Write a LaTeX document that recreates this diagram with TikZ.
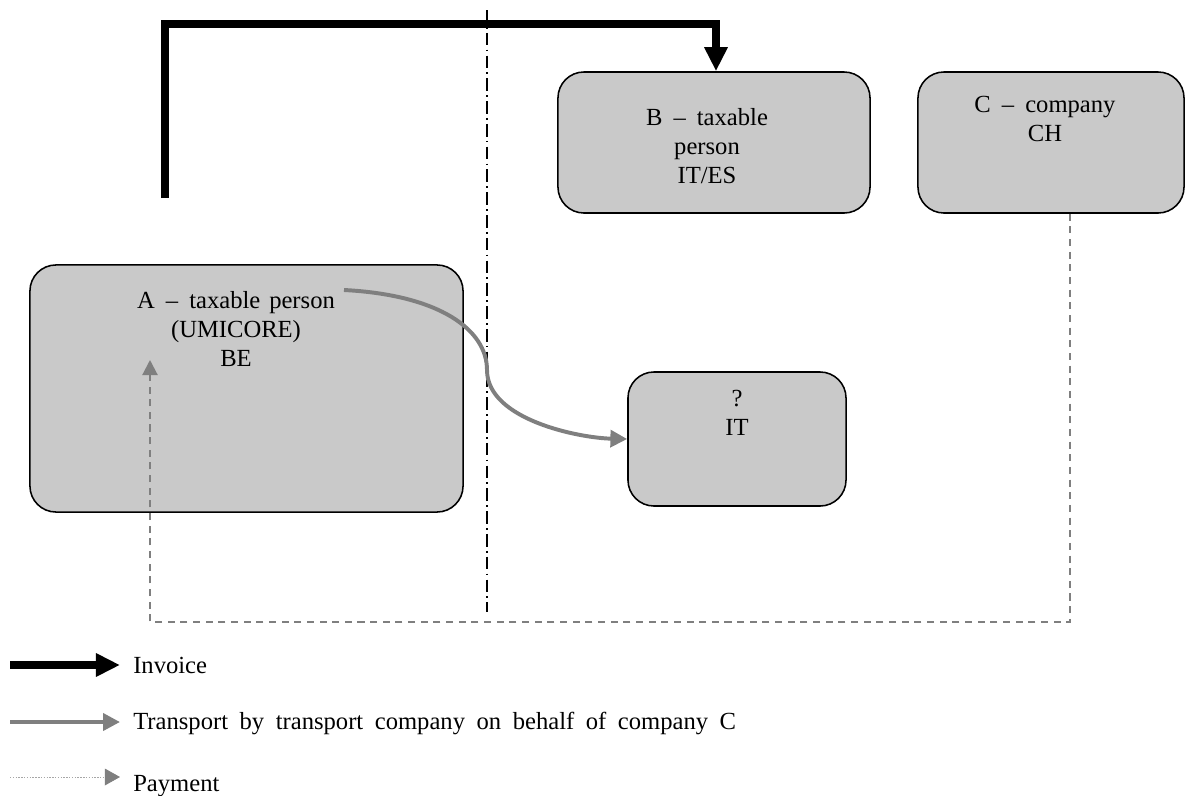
\documentclass[tikz,border=0pt]{standalone}
\usepackage{fontspec}
\setmainfont{Liberation Serif}
\usetikzlibrary{arrows.meta,calc}
\definecolor{boxgray}{HTML}{C9C9C9}
\definecolor{arrgray}{HTML}{7F7F7F}
\newcommand{\dsh}{\hspace{0.45em}--\hspace{0.45em}}
\newcommand{\lblfont}{\fontsize{17.5}{20.5}\selectfont\spaceskip 0.36em plus 0.1em\relax}
\newcommand{\wideword}{\spaceskip 0.47em plus 0.1em\relax}
\begin{document}
\begin{tikzpicture}[x=0.025cm,y=-0.025cm,
  box/.style={draw=black,line width=1.1pt,fill=boxgray,rounded corners=0.65cm,inner sep=0pt},
  lbl/.style={align=center,inner sep=0pt,font=\lblfont},
  inv/.style={line width=5.7pt,-{Triangle[width=0.55cm,length=0.6cm]}},
  trn/.style={arrgray,line width=2.8pt,-{Triangle[width=0.42cm,length=0.42cm]}},
  pay/.style={arrgray,line width=1.5pt,dash pattern=on 5pt off 4pt,-{Triangle[width=0.38cm,length=0.38cm]}},
  legpay/.style={gray!70,line width=0.6pt,dash pattern=on 1pt off 1pt,-{Triangle[width=0.42cm,length=0.38cm,color=arrgray]}},
  divider/.style={black,line width=1.2pt,dash pattern=on 9pt off 3pt on 1.2pt off 3pt}
]
\useasboundingbox (0,0) rectangle (1186,796);

% boxes
\node[box,minimum width=10.825cm,minimum height=6.175cm] (A) at (246.5,388.5) {};
\node[box,minimum width=7.8cm,minimum height=3.525cm] (B) at (714,142.5) {};
\node[box,minimum width=6.65cm,minimum height=3.525cm] (C) at (1051,142.5) {};
\node[box,minimum width=5.45cm,minimum height=3.35cm] (Q) at (737,439) {};

% box texts
\node[lbl,anchor=north] (At) at (236,291) {A\dsh taxable person\\(UMICORE)\\BE};
\node[lbl,anchor=north] (Bt) at (707,108) {B\dsh taxable\\person\\IT/ES};
\node[lbl,anchor=north] (Ct) at (1045,96) {C\dsh company\\CH};
\node[lbl,anchor=north] (Qt) at (737,390) {?\\IT};

% divider
\coordinate (dtop) at (487,10);
\coordinate (dbot) at (487,612);
\draw[divider] (dtop) -- (dbot);

% invoice
\coordinate (istart) at (165,198);
\coordinate (icorner) at (165,24);
\draw[inv] (istart) -- (icorner) -| ($(B.north)+(2,0)$);

% transport
\coordinate (tstart) at (344,290);
\draw[trn] (tstart) .. controls (440,295) and (487,330) .. (487,370)
  .. controls (487,420) and (580,438) .. (Q.west);

% payment
\coordinate (pc1) at (1070,622);
\coordinate (pc2) at (150,622);
\coordinate (pend) at (150,360);
\draw[pay] (C.south -| pc1) -- (pc1) -- (pc2) -- (pend);

% legend
\coordinate (l1a) at (10,665);
\coordinate (l1b) at (120,665);
\draw[inv] (l1a) -- (l1b);
\node[lbl,anchor=base west] (l1t) at (133,673) {Invoice};

\coordinate (l2a) at (10,722);
\coordinate (l2b) at (120,722);
\draw[trn] (l2a) -- (l2b);
\node[lbl,anchor=base west] (l2t) at (133,729) {\wideword Transport by transport company on behalf of company C};

\coordinate (l3a) at (10,777);
\coordinate (l3b) at (120,777);
\draw[legpay] (l3a) -- (l3b);
\node[lbl,anchor=base west] (l3t) at (133,791) {Payment};
\end{tikzpicture}
\end{document}
